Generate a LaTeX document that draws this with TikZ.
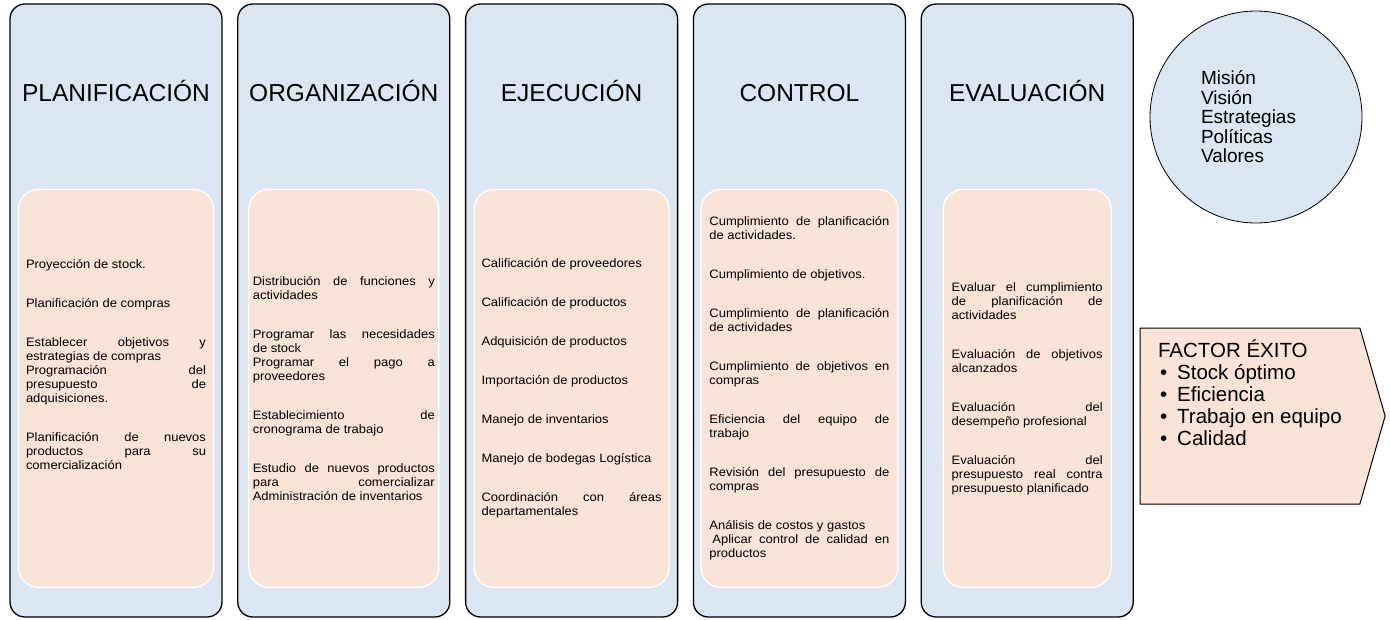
\documentclass[tikz,border=0pt]{standalone}
\usepackage{fontspec}
\setmainfont{Liberation Sans}
\newfontfamily\cuerpo[FakeStretch=1.065]{Liberation Sans}
\usetikzlibrary{positioning, shapes.symbols}

\definecolor{celeste}{HTML}{DCE6F2}
\definecolor{durazno}{HTML}{F9E3D7}

\hyphenpenalty=10000
\tolerance=10000

\begin{document}
\begin{tikzpicture}[
x=1pt, y=-1pt,
fase/.style={
rectangle,
draw=black,
line width=1.3pt,
fill=celeste,
rounded corners=15pt,
minimum width=212pt,
minimum height=613pt
},
titulo/.style={
anchor=base,
font=\fontsize{24.5}{29}\selectfont
},
tareas/.style={
rectangle,
draw=white,
line width=1.2pt,
fill=durazno,
rounded corners=20pt,
minimum width=195pt,
minimum height=398pt,
inner xsep=7.5pt,
text width=180pt,
align=justify,
font=\cuerpo\fontsize{12.2}{14}\selectfont
},
circulo/.style={
circle,
draw=black,
line width=0.8pt,
fill=celeste,
minimum size=212pt,
text width=110pt,
align=left,
font=\fontsize{19}{19.5}\selectfont
},
exito/.style={
signal,
signal to=east,
signal from=nowhere,
signal pointer angle=148,
draw=black,
line width=1pt,
fill=durazno,
minimum width=245pt,
minimum height=176pt
}
]

\useasboundingbox (0,0) rectangle (1390,619);

\node (p1) [fase] at (116,310.5) {};
\node (p2) [fase, right=14.5pt of p1] {};
\node (p3) [fase, right=14.5pt of p2] {};
\node (p4) [fase, right=14.5pt of p3] {};
\node (p5) [fase, right=14.5pt of p4] {};

\node (t1) [titulo] at ([yshift=-98pt]p1.north) {PLANIFICACIÓN};
\node (t2) [titulo] at ([yshift=-98pt]p2.north) {ORGANIZACIÓN};
\node (t3) [titulo] at ([yshift=-98pt]p3.north) {EJECUCIÓN};
\node (t4) [titulo] at ([yshift=-98pt]p4.north) {CONTROL};
\node (t5) [titulo] at ([yshift=-98pt]p5.north) {EVALUACIÓN};

\node (i1) [tareas] at ([yshift=-385pt]p1.north)
{Proyección de stock.\\[25pt]
Planificación de compras\\[25pt]
Establecer objetivos y\linebreak estrategias de compras\\
Programación del\linebreak presupuesto de\linebreak adquisiciones.\\[25pt]
Planificación de nuevos\linebreak productos para su\linebreak comercialización\\[34pt]
\mbox{}};

\node (i2) [tareas, minimum width=190pt, inner xsep=4pt, text width=182pt] at ([yshift=-385pt]p2.north)
{Distribución de funciones y\linebreak actividades\\[25pt]
Programar las necesidades\linebreak de stock\\
Programar el pago a\linebreak proveedores\\[25pt]
Establecimiento de\linebreak cronograma de trabajo\\[25pt]
Estudio de nuevos productos\linebreak para comercializar\linebreak Administración de inventarios};

\node (i3) [tareas] at ([yshift=-385pt]p3.north)
{Calificación de proveedores\\[25pt]
Calificación de productos\\[25pt]
Adquisición de productos\\[25pt]
Importación de productos\\[25pt]
Manejo de inventarios\\[25pt]
Manejo de bodegas Logística\\[25pt]
Coordinación con áreas\linebreak departamentales};

\node (i4) [tareas, minimum width=197pt] at ([yshift=-385pt]p4.north)
{Cumplimiento de planificación\linebreak de actividades.\\[25pt]
Cumplimiento de objetivos.\\[25pt]
Cumplimiento de planificación\linebreak de actividades\\[25pt]
Cumplimiento de objetivos en\linebreak compras\\[25pt]
Eficiencia del equipo de\linebreak trabajo\\[25pt]
Revisión del presupuesto de\linebreak compras\\[25pt]
Análisis de costos y gastos\\
\hspace*{3pt}Aplicar control de calidad en\linebreak productos};

\node (i5) [tareas, minimum width=168pt, text width=151pt] at ([yshift=-385pt]p5.north)
{Evaluar el cumplimiento\linebreak de planificación de\linebreak actividades\\[25pt]
Evaluación de objetivos\linebreak alcanzados\\[25pt]
Evaluación del\linebreak desempeño profesional\\[25pt]
Evaluación del\linebreak presupuesto real contra\linebreak presupuesto planificado};

\node (mision) [circulo] at (1256,117)
{Misión\\Visión\\Estrategias\\Políticas\\Valores};

\node (factor) [exito] at (1250,416) {};
\node (lista) [anchor=north west, align=left, font=\fontsize{20.5}{22}\selectfont] at (1154.5,336)
{FACTOR ÉXITO\\
\hspace*{2pt}\textbullet\hspace{10pt}Stock óptimo\\
\hspace*{2pt}\textbullet\hspace{10pt}Eficiencia\\
\hspace*{2pt}\textbullet\hspace{10pt}Trabajo en equipo\\
\hspace*{2pt}\textbullet\hspace{10pt}Calidad};

\end{tikzpicture}
\end{document}
